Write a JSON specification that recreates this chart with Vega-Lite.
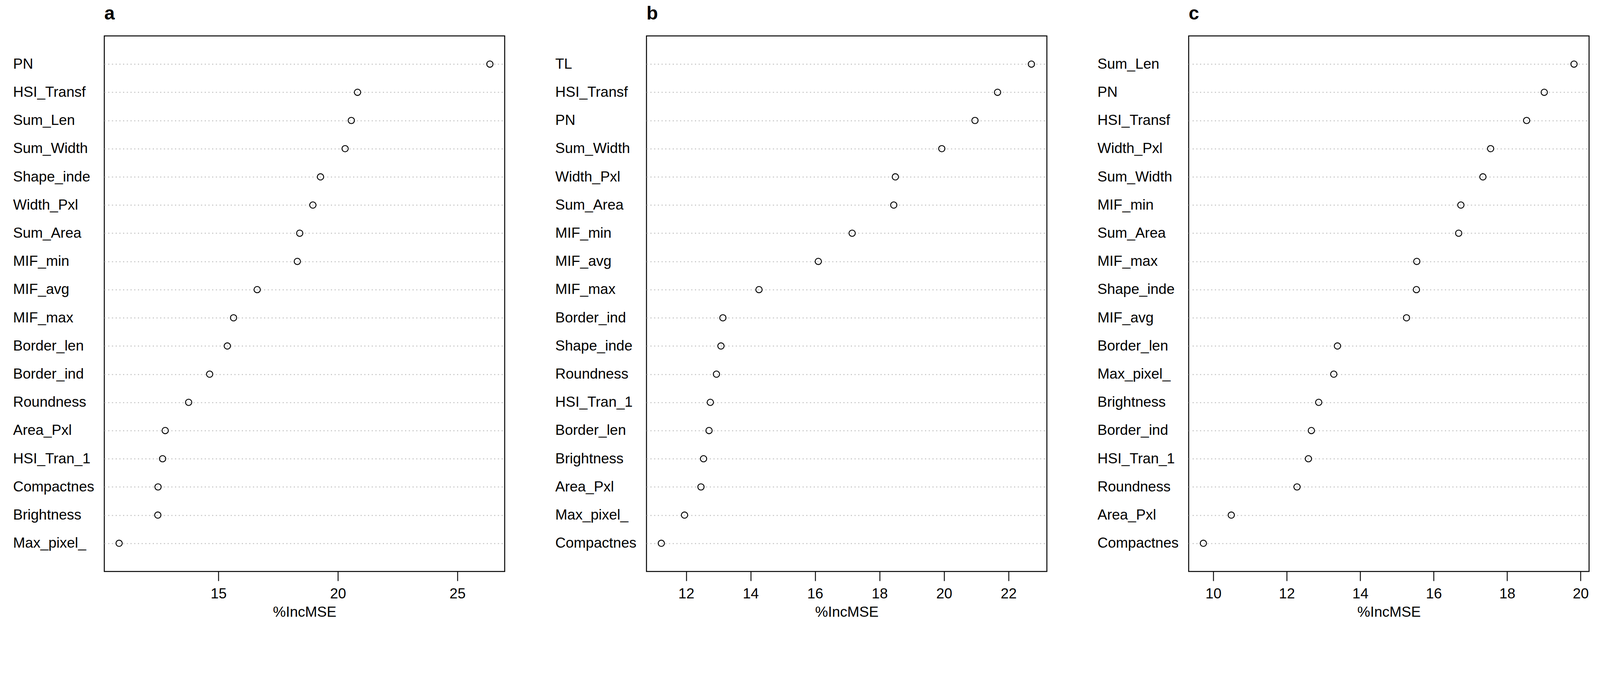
{
  "$schema": "https://vega.github.io/schema/vega-lite/v6.json",
  "padding": {"left": 31, "top": 10, "right": 5, "bottom": 5},
  "background": "white",
  "datasets": {
    "a": [
      {"var": "PN", "IncMSE": 26.36},
      {"var": "HSI_Transf", "IncMSE": 20.82},
      {"var": "Sum_Len", "IncMSE": 20.56},
      {"var": "Sum_Width", "IncMSE": 20.30},
      {"var": "Shape_inde", "IncMSE": 19.27},
      {"var": "Width_Pxl", "IncMSE": 18.95},
      {"var": "Sum_Area", "IncMSE": 18.40},
      {"var": "MIF_min", "IncMSE": 18.30},
      {"var": "MIF_avg", "IncMSE": 16.62},
      {"var": "MIF_max", "IncMSE": 15.63},
      {"var": "Border_len", "IncMSE": 15.37},
      {"var": "Border_ind", "IncMSE": 14.63},
      {"var": "Roundness", "IncMSE": 13.75},
      {"var": "Area_Pxl", "IncMSE": 12.77},
      {"var": "HSI_Tran_1", "IncMSE": 12.66},
      {"var": "Compactnes", "IncMSE": 12.47},
      {"var": "Brightness", "IncMSE": 12.46},
      {"var": "Max_pixel_", "IncMSE": 10.84}
    ],
    "b": [
      {"var": "TL", "IncMSE": 22.71},
      {"var": "HSI_Transf", "IncMSE": 21.66},
      {"var": "PN", "IncMSE": 20.96},
      {"var": "Sum_Width", "IncMSE": 19.93},
      {"var": "Width_Pxl", "IncMSE": 18.49},
      {"var": "Sum_Area", "IncMSE": 18.44},
      {"var": "MIF_min", "IncMSE": 17.15},
      {"var": "MIF_avg", "IncMSE": 16.10},
      {"var": "MIF_max", "IncMSE": 14.26},
      {"var": "Border_ind", "IncMSE": 13.14},
      {"var": "Shape_inde", "IncMSE": 13.08},
      {"var": "Roundness", "IncMSE": 12.94},
      {"var": "HSI_Tran_1", "IncMSE": 12.75},
      {"var": "Border_len", "IncMSE": 12.71},
      {"var": "Brightness", "IncMSE": 12.54},
      {"var": "Area_Pxl", "IncMSE": 12.46},
      {"var": "Max_pixel_", "IncMSE": 11.95},
      {"var": "Compactnes", "IncMSE": 11.23}
    ],
    "c": [
      {"var": "Sum_Len", "IncMSE": 19.82},
      {"var": "PN", "IncMSE": 19.01},
      {"var": "HSI_Transf", "IncMSE": 18.53},
      {"var": "Width_Pxl", "IncMSE": 17.55},
      {"var": "Sum_Width", "IncMSE": 17.34},
      {"var": "MIF_min", "IncMSE": 16.74},
      {"var": "Sum_Area", "IncMSE": 16.68},
      {"var": "MIF_max", "IncMSE": 15.54},
      {"var": "Shape_inde", "IncMSE": 15.53},
      {"var": "MIF_avg", "IncMSE": 15.26},
      {"var": "Border_len", "IncMSE": 13.38},
      {"var": "Max_pixel_", "IncMSE": 13.28},
      {"var": "Brightness", "IncMSE": 12.87},
      {"var": "Border_ind", "IncMSE": 12.67},
      {"var": "HSI_Tran_1", "IncMSE": 12.59},
      {"var": "Roundness", "IncMSE": 12.28},
      {"var": "Area_Pxl", "IncMSE": 10.49},
      {"var": "Compactnes", "IncMSE": 9.73}
    ]
  },
  "spacing": 125,
  "hconcat": [
    {
      "width": 1025,
      "height": 1372,
      "data": {"name": "a"},
      "title": {"text": "a"},
      "mark": {"type": "point", "shape": "circle", "filled": false, "color": "black", "size": 260, "strokeWidth": 2.3, "opacity": 1},
      "encoding": {
        "y": {"field": "var", "type": "nominal", "sort": null, "scale": {"type": "point", "padding": 1}, "axis": {"title": null}},
        "x": {"field": "IncMSE", "type": "quantitative", "title": "%IncMSE", "scale": {"domain": [10.22, 26.98], "nice": false, "zero": false}, "axis": {"values": [15, 20, 25]}}
      }
    },
    {
      "width": 1025,
      "height": 1372,
      "data": {"name": "b"},
      "title": {"text": "b"},
      "mark": {"type": "point", "shape": "circle", "filled": false, "color": "black", "size": 260, "strokeWidth": 2.3, "opacity": 1},
      "encoding": {
        "y": {"field": "var", "type": "nominal", "sort": null, "scale": {"type": "point", "padding": 1}, "axis": {"title": null}},
        "x": {"field": "IncMSE", "type": "quantitative", "title": "%IncMSE", "scale": {"domain": [10.77, 23.19], "nice": false, "zero": false}, "axis": {"values": [12, 14, 16, 18, 20, 22]}}
      }
    },
    {
      "width": 1025,
      "height": 1372,
      "data": {"name": "c"},
      "title": {"text": "c"},
      "mark": {"type": "point", "shape": "circle", "filled": false, "color": "black", "size": 260, "strokeWidth": 2.3, "opacity": 1},
      "encoding": {
        "y": {"field": "var", "type": "nominal", "sort": null, "scale": {"type": "point", "padding": 1}, "axis": {"title": null}},
        "x": {"field": "IncMSE", "type": "quantitative", "title": "%IncMSE", "scale": {"domain": [9.33, 20.23], "nice": false, "zero": false}, "axis": {"values": [10, 12, 14, 16, 18, 20]}}
      }
    }
  ],
  "config": {
    "font": "Liberation Sans",
    "view": {"stroke": "black", "strokeWidth": 2.5},
    "title": {"anchor": "start", "frame": "group", "fontSize": 48, "fontWeight": "bold", "font": "Liberation Sans", "color": "black", "baseline": "alphabetic", "offset": 32},
    "axisY": {"ticks": false, "domain": false, "labelAlign": "left", "labelBaseline": "middle", "labelPadding": 234, "labelLimit": 0, "labelFontSize": 37, "labelColor": "black", "labelFont": "Liberation Sans", "grid": true, "gridDash": [3, 6.5], "gridColor": "#c4c4c4", "gridWidth": 2.3, "gridOpacity": 1},
    "axisX": {"domain": false, "grid": false, "tickSize": 24, "tickWidth": 2.3, "tickColor": "black", "labelFontSize": 37, "labelColor": "black", "labelFont": "Liberation Sans", "labelPadding": 15, "labelFlush": false, "labelOverlap": false, "titleFontSize": 37, "titleFontWeight": "normal", "titleColor": "black", "titleFont": "Liberation Sans", "titlePadding": 11}
  }
}
